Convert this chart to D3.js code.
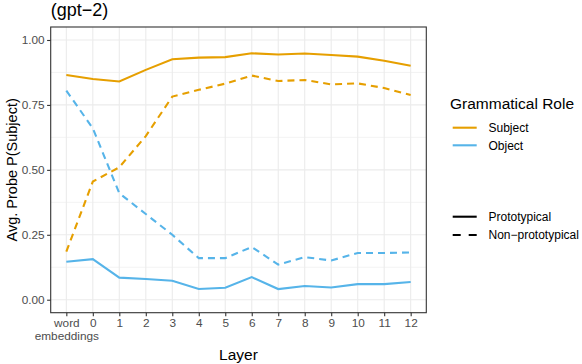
<!DOCTYPE html>
<html>
<head>
<meta charset="utf-8">
<script src="https://cdn.jsdelivr.net/npm/d3@7"></script>
<style>
  body { margin: 0; background: #fff; }
  text { font-family: "Liberation Sans", Arial, sans-serif; }
</style>
</head>
<body>
<div id="chart"></div>
<script>
// Layers on the x axis
const layers = ["word embeddings", "0", "1", "2", "3", "4", "5", "6", "7", "8", "9", "10", "11", "12"];
const yTicks = [0, 0.25, 0.5, 0.75, 1];

// Avg probe P(subject) per layer
const subjectProto    = [0.865, 0.850, 0.840, 0.885, 0.926, 0.932, 0.934, 0.949, 0.944, 0.948, 0.942, 0.936, 0.920, 0.901];
const subjectNonProto = [0.185, 0.455, 0.510, 0.630, 0.782, 0.808, 0.832, 0.863, 0.842, 0.846, 0.829, 0.833, 0.815, 0.788];
const objectProto     = [0.146, 0.156, 0.085, 0.080, 0.073, 0.041, 0.046, 0.087, 0.041, 0.053, 0.047, 0.060, 0.060, 0.068];
const objectNonProto  = [0.805, 0.660, 0.410, 0.330, 0.250, 0.160, 0.160, 0.203, 0.135, 0.164, 0.151, 0.180, 0.180, 0.182];

const roles = ["Subject", "Object"];
const kinds = ["Prototypical", "Non\u2212prototypical"];
const series = [
    { role: "Subject", kind: "Prototypical", values: subjectProto },
    { role: "Subject", kind: "Non\u2212prototypical", values: subjectNonProto },
    { role: "Object", kind: "Prototypical", values: objectProto },
    { role: "Object", kind: "Non\u2212prototypical", values: objectNonProto },
];

const W = 582, H = 364;
const panel = { left: 50.7, right: 426.3, top: 27, bottom: 312.7 };

const color = d3.scaleOrdinal().domain(roles).range(["#E69F00", "#56B4E9"]);
const dash = d3.scaleOrdinal().domain(kinds).range(["none", "7,5"]);

const x = d3.scalePoint()
    .domain(layers)
    .range([panel.left, panel.right])
    .padding(0.59);
const y = d3.scaleLinear()
    .domain([-0.05, 1.05])
    .range([panel.bottom, panel.top]);

const svg = d3.select("#chart").append("svg")
    .attr("width", W)
    .attr("height", H);

// Grid
const grid = svg.append("g");
const minor = [0.125, 0.375, 0.625, 0.875];
grid.selectAll(".minor").data(minor).enter().append("line")
    .attr("x1", panel.left).attr("x2", panel.right)
    .attr("y1", d => y(d)).attr("y2", d => y(d))
    .attr("stroke", "#EBEBEB").attr("stroke-width", 0.6);
grid.selectAll(".hmajor").data(yTicks).enter().append("line")
    .attr("x1", panel.left).attr("x2", panel.right)
    .attr("y1", d => y(d)).attr("y2", d => y(d))
    .attr("stroke", "#EBEBEB").attr("stroke-width", 1.1);
grid.selectAll(".vmajor").data(layers).enter().append("line")
    .attr("x1", d => x(d)).attr("x2", d => x(d))
    .attr("y1", panel.top).attr("y2", panel.bottom)
    .attr("stroke", "#EBEBEB").attr("stroke-width", 1.1);

// Lines
const line = d3.line()
    .x((d, i) => x(layers[i]))
    .y(d => y(d));
svg.append("g").selectAll("path").data(series).enter().append("path")
    .attr("d", d => line(d.values))
    .attr("fill", "none")
    .attr("stroke", d => color(d.role))
    .attr("stroke-width", 2.1)
    .attr("stroke-dasharray", d => dash(d.kind));

// Panel border
svg.append("rect")
    .attr("x", panel.left).attr("y", panel.top)
    .attr("width", panel.right - panel.left)
    .attr("height", panel.bottom - panel.top)
    .attr("fill", "none")
    .attr("stroke", "#333333")
    .attr("stroke-width", 1.1);

// Axes
const yAxis = svg.append("g")
    .attr("transform", `translate(${panel.left},0)`)
    .call(d3.axisLeft(y).tickValues(yTicks).tickFormat(d3.format(".2f")).tickSize(3.6).tickPadding(2.5));
const xAxis = svg.append("g")
    .attr("transform", `translate(0,${panel.bottom})`)
    .call(d3.axisBottom(x).tickSize(3.6).tickPadding(2.5));
[yAxis, xAxis].forEach(a => {
    a.select(".domain").remove();
    a.selectAll(".tick line").attr("stroke", "#333333").attr("stroke-width", 1.1);
    a.selectAll(".tick text").attr("fill", "#4D4D4D").style("font-size", "11.8px")
        .style("font-family", "'Liberation Sans', Arial, sans-serif");
});
// two-line label for word embeddings
xAxis.selectAll(".tick text").each(function(d) {
    const t = d3.select(this);
    const words = d.split(" ");
    if (words.length > 1) {
        t.text(null);
        words.forEach((w, i) => {
            t.append("tspan").attr("x", 0).attr("dy", i === 0 ? "0.71em" : "1.1em").text(w);
        });
    }
});

// Axis titles
svg.append("text")
    .attr("x", (panel.left + panel.right) / 2)
    .attr("y", 360)
    .attr("text-anchor", "middle")
    .style("font-size", "15.5px")
    .text("Layer");
svg.append("text")
    .attr("transform", `translate(17,${(panel.top + panel.bottom) / 2}) rotate(-90)`)
    .attr("text-anchor", "middle")
    .style("font-size", "14.5px")
    .text("Avg. Probe P(Subject)");

// Title
svg.append("text")
    .attr("x", panel.left)
    .attr("y", 16)
    .style("font-size", "18px")
    .text("(gpt\u22122)");

// Legend
const leg = svg.append("g").attr("transform", "translate(450,0)");
leg.append("text")
    .attr("x", 0).attr("y", 109)
    .style("font-size", "15.5px")
    .text("Grammatical Role");
const roleItems = leg.selectAll(".role").data(roles).enter().append("g")
    .attr("transform", (d, i) => `translate(0,${127.7 + i * 17.6})`);
roleItems.append("line")
    .attr("x1", 2.7).attr("x2", 26.7)
    .attr("stroke", d => color(d)).attr("stroke-width", 2.1);
roleItems.append("text")
    .attr("x", 38.5).attr("dy", "0.35em")
    .style("font-size", "12px")
    .text(d => d);
const kindItems = leg.selectAll(".kind").data(kinds).enter().append("g")
    .attr("transform", (d, i) => `translate(0,${216.7 + i * 18.3})`);
kindItems.append("line")
    .attr("x1", 2.7).attr("x2", 26.7)
    .attr("stroke", "#000").attr("stroke-width", 2.1)
    .attr("stroke-dasharray", d => d === kinds[1] ? "8,8" : "none");
kindItems.append("text")
    .attr("x", 38.5).attr("dy", "0.35em")
    .style("font-size", "12px")
    .text(d => d);
</script>
</body>
</html>
